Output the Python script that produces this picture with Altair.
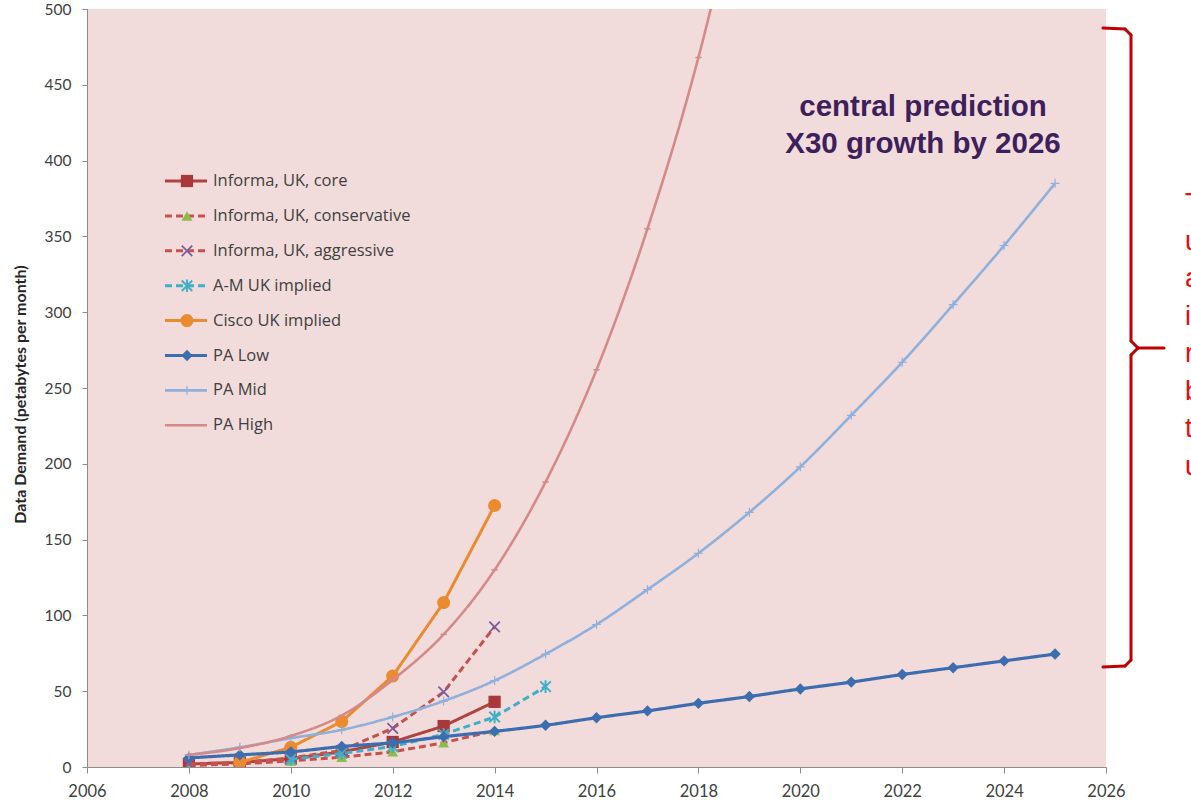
import altair as alt
import pandas as pd

# ---- series values (petabytes per month) ----
series_names = [
    "Informa, UK, core",
    "Informa, UK, conservative",
    "Informa, UK, aggressive",
    "A-M UK implied",
    "Cisco UK implied",
    "PA Low",
    "PA Mid",
    "PA High",
]

core_years = [2008, 2009, 2010, 2011, 2012, 2013, 2014]
core_vals = [2, 3, 5.5, 10, 16.5, 27, 43]

cons_years = [2008, 2009, 2010, 2011, 2012, 2013, 2014]
cons_vals = [1, 2, 4, 6.5, 10, 16, 24]

aggr_years = [2008, 2009, 2010, 2011, 2012, 2013, 2014]
aggr_vals = [2, 3, 6, 11, 25.5, 49.5, 92.5]

am_years = [2010, 2011, 2012, 2013, 2014, 2015]
am_vals = [5, 9, 13.5, 21.5, 33, 53]

cisco_years = [2009, 2010, 2011, 2012, 2013, 2014]
cisco_vals = [3, 13, 30, 60, 108.5, 172.5]

pa_years = list(range(2008, 2026))
pa_low_vals = [6, 8, 10, 13.5, 16, 20, 23.5, 27.5, 32.5, 37, 42, 46.5,
               51.5, 56, 61, 65.5, 70, 74.5]
pa_mid_vals = [8, 13, 19, 24.5, 33, 43.5, 57, 74.5, 94, 117, 141, 168,
               198, 232, 267, 305, 344, 385]

pa_high_years = list(range(2008, 2020))
pa_high_vals = [8, 12.5, 20.5, 34, 57.5, 87.5, 130, 188, 262, 355, 468, 610]

x_ticks = list(range(2006, 2027, 2))
y_ticks = list(range(0, 501, 50))

annotation_lines = ["central prediction", "X30 growth by 2026"]
side_letters = ["T", "u", "a", "i", "r", "b", "t", "u"]

# ---- long table for plotting ----
rows = []
for name, yrs, vals in [
    (series_names[0], core_years, core_vals),
    (series_names[1], cons_years, cons_vals),
    (series_names[2], aggr_years, aggr_vals),
    (series_names[3], am_years, am_vals),
    (series_names[4], cisco_years, cisco_vals),
    (series_names[5], pa_years, pa_low_vals),
    (series_names[6], pa_years, pa_mid_vals),
    (series_names[7], pa_high_years, pa_high_vals),
]:
    for yr, v in zip(yrs, vals):
        rows.append({"series": name, "year": yr, "value": v})
df = pd.DataFrame(rows)

# ---- styling per series ----
X_PATH = "M-1,-1L1,1M-1,1L1,-1"
STAR_PATH = "M-1,-1L1,1M-1,1L1,-1M0,-1.2L0,1.2"
PLUS_PATH = "M-1,0L1,0M0,-1L0,1"
DASH_PATH = "M-1,0L1,0"

styles = {
    "Informa, UK, core": dict(line="#B0423F", dash=[1, 0], width=3, interp="linear",
                              shape="square", mcolor="#A8383A", filled=True, size=150, mstroke=1),
    "Informa, UK, conservative": dict(line="#C8504D", dash=[7, 4], width=3, interp="linear",
                                      shape="triangle-up", mcolor="#8DBB4C", filled=True, size=120, mstroke=1),
    "Informa, UK, aggressive": dict(line="#C8504D", dash=[7, 4], width=3, interp="linear",
                                    shape=X_PATH, mcolor="#7B5C9E", filled=False, size=110, mstroke=1.8),
    "A-M UK implied": dict(line="#3FAFC8", dash=[7, 4], width=3, interp="linear",
                           shape=STAR_PATH, mcolor="#3FAFC8", filled=False, size=110, mstroke=2),
    "Cisco UK implied": dict(line="#EB8A2F", dash=[1, 0], width=3, interp="linear",
                             shape="circle", mcolor="#EB8A2F", filled=True, size=170, mstroke=1),
    "PA Low": dict(line="#3C6EAF", dash=[1, 0], width=3.2, interp="monotone",
                   shape="diamond", mcolor="#3C6EAF", filled=True, size=130, mstroke=1),
    "PA Mid": dict(line="#8DB0DC", dash=[1, 0], width=2.6, interp="monotone",
                   shape=PLUS_PATH, mcolor="#8DB0DC", filled=False, size=80, mstroke=1.2),
    "PA High": dict(line="#D38A89", dash=[1, 0], width=2.6, interp="monotone",
                    shape=DASH_PATH, mcolor="#D38A89", filled=False, size=40, mstroke=1.5),
}

LEFT, TOP = 87, 9
PLOT_W, PLOT_H = 1019, 758

x_enc = alt.X(
    "year:Q",
    scale=alt.Scale(domain=[2006, 2026], nice=False, zero=False),
    axis=alt.Axis(values=x_ticks, format="d", title=None, grid=False,
                  tickSize=6, labelPadding=10, labelFontSize=16.5,
                  labelFlush=False),
)
y_enc = alt.Y(
    "value:Q",
    scale=alt.Scale(domain=[0, 500], nice=False),
    axis=alt.Axis(values=y_ticks, title="Data Demand (petabytes per month)",
                  grid=False, tickSize=5, labelPadding=11, labelFontSize=15.5,
                  labelFlush=False,
                  titleFont="Lato", titleFontWeight="bold", titleFontSize=16,
                  titleColor="#262626", titleX=-67, titleY=385,
                  titleAlign="center", titleBaseline="middle", titleAngle=270),
)

base = alt.Chart(df)
layers = []
for name in series_names:
    st = styles[name]
    sub = base.transform_filter(alt.datum.series == name)
    layers.append(
        sub.mark_line(clip=True, color=st["line"], strokeWidth=st["width"],
                      strokeDash=st["dash"], interpolate=st["interp"])
        .encode(x=x_enc, y=y_enc)
    )
    layers.append(
        sub.mark_point(clip=True, shape=st["shape"], filled=st["filled"],
                       size=st["size"], color=st["mcolor"], opacity=1,
                       strokeWidth=st["mstroke"]).encode(x=x_enc, y=y_enc)
    )

one = pd.DataFrame({"k": [0]})

# ---- legend inside the plot ----
legend_top = 181 - TOP
legend_step = 34.9
sample_x0, sample_x1 = 165 - LEFT, 207 - LEFT
marker_x = 187 - LEFT
label_x = 213 - LEFT
for i, name in enumerate(series_names):
    st = styles[name]
    yy = legend_top + i * legend_step
    layers.append(
        alt.Chart(one).mark_rule(color=st["line"], strokeWidth=st["width"],
                                 strokeDash=st["dash"])
        .encode(x=alt.value(sample_x0), x2=alt.value(sample_x1),
                y=alt.value(yy), y2=alt.value(yy))
    )
    layers.append(
        alt.Chart(one).mark_point(shape=st["shape"], filled=st["filled"],
                                  size=st["size"], color=st["mcolor"], opacity=1,
                                  strokeWidth=st["mstroke"])
        .encode(x=alt.value(marker_x), y=alt.value(yy))
    )
    layers.append(
        alt.Chart(one).mark_text(align="left", baseline="middle", font="Open Sans",
                                 fontSize=16.5, color="#404040")
        .encode(x=alt.value(label_x), y=alt.value(yy), text=alt.value(name))
    )

# ---- headline annotation ----
for i, line in enumerate(annotation_lines):
    layers.append(
        alt.Chart(one).mark_text(align="center", baseline="alphabetic",
                                 font="Liberation Sans", fontWeight="bold",
                                 fontSize=29.5, color="#3D1F5C")
        .encode(x=alt.value(923 - LEFT), y=alt.value(116 - TOP + i * 37),
                text=alt.value(line))
    )

# ---- bracket on the right ----
brace = [
    (1103, 28, 1125, 29),
    (1125, 29, 1131, 35),
    (1131, 35, 1131, 341),
    (1131, 341, 1138, 348),
    (1138, 348, 1164, 348),
    (1138, 348, 1131, 355),
    (1131, 355, 1131, 660),
    (1131, 660, 1125, 666),
    (1125, 666, 1103, 667),
]
for (xa, ya, xb, yb) in brace:
    layers.append(
        alt.Chart(one).mark_rule(color="#C00000", strokeWidth=3, strokeCap="round")
        .encode(x=alt.value(xa - LEFT), x2=alt.value(xb - LEFT),
                y=alt.value(ya - TOP), y2=alt.value(yb - TOP))
    )

# ---- side note running off the right edge ----
for i, ch in enumerate(side_letters):
    layers.append(
        alt.Chart(one).mark_text(align="left", baseline="alphabetic",
                                 font="Liberation Sans", fontSize=27, color="#E01010")
        .encode(x=alt.value(1185 - LEFT), y=alt.value(212 - TOP + i * 37.5),
                text=alt.value(ch))
    )

chart = (
    alt.layer(*layers)
    .properties(
        width=PLOT_W,
        height=PLOT_H,
        autosize=alt.AutoSizeParams(type="none"),
        padding={"left": LEFT, "top": TOP, "right": 1191 - LEFT - PLOT_W,
                 "bottom": 811 - TOP - PLOT_H},
        background="white",
    )
    .configure_view(fill="#F2DCDB", stroke=None)
    .configure_axis(
        domainColor="#8C8C8C",
        tickColor="#8C8C8C",
        labelColor="#404040",
        labelFont="Lato",
    )
)

chart.save("out.html", embed_options={"renderer": "svg", "actions": False})
